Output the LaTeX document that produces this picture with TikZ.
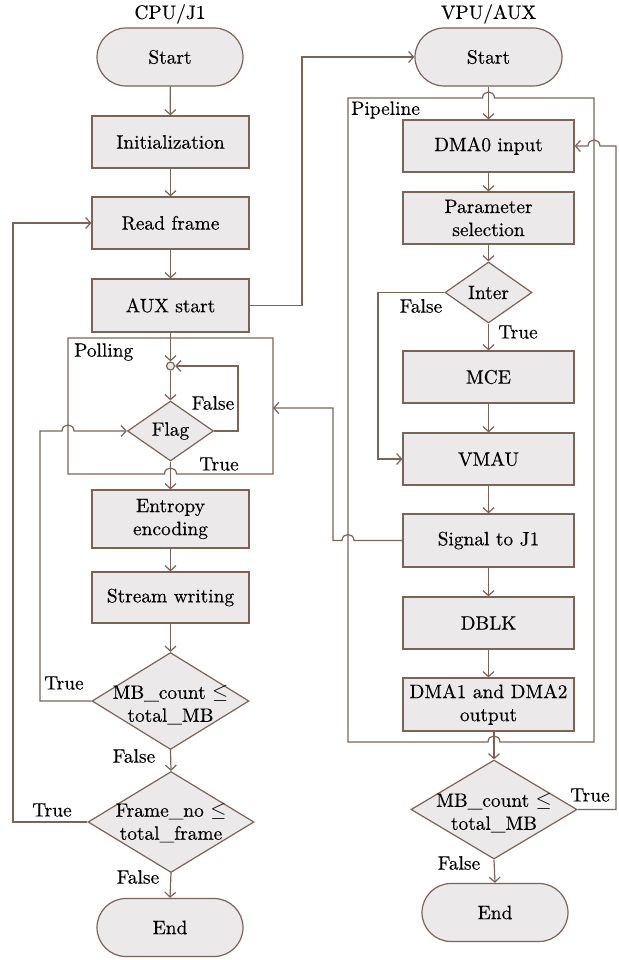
\documentclass[tikz,border=0pt]{standalone}
\usepackage{fontspec}
\setmainfont{lmroman10-regular.otf}[BoldFont=lmroman10-regular.otf, BoldFeatures={FakeBold=0.3}]
\usetikzlibrary{arrows.meta,shapes.geometric,shapes.misc}
\definecolor{lc}{RGB}{122,100,90}
\definecolor{fc}{RGB}{235,233,234}
\tikzset{
  every node/.style={font=\fontsize{19.4}{23}\selectfont\bfseries, text=black},
  conn/.style={draw=lc, line width=1.2pt},
  arr/.style={conn, -{Straight Barb[length=5pt,width=11pt]}},
  procbox/.style={rectangle, draw=lc, fill=fc, line width=1.2pt, inner sep=0pt, align=center},
  term/.style={rounded rectangle, draw=lc, fill=fc, line width=1.2pt, inner sep=0pt, minimum width=146pt, minimum height=58pt},
  decis/.style={diamond, draw=lc, fill=fc, line width=1.2pt, inner sep=0pt},
  lbl/.style={inner sep=0pt}
}
\begin{document}
\begin{tikzpicture}[x=1pt,y=-1pt]
\useasboundingbox (0,0) rectangle (618,960);
% titles
\node[lbl] (tL) at (170,14) {CPU/J1};
\node[lbl] (tR) at (488.5,14) {VPU/AUX};
% left column
\node[term] (startL) at (170,57) {Start};
\node[procbox, minimum width=157pt, minimum height=52pt] (init) at (170.5,142) {Initialization};
\node[procbox, minimum width=157pt, minimum height=52pt] (read) at (170.5,223) {Read frame};
\node[procbox, minimum width=157pt, minimum height=53pt] (aux) at (170.5,305.5) {AUX start};
% polling frame
\draw[conn] (68,338) -- (273,338) -- (273,474) -- (176.5,474) .. controls (176.5,466) and (164.5,466) .. (164.5,474) -- (68,474) -- cycle;
\coordinate (pollE) at (273,408);
\node[lbl, anchor=west] (polling) at (74,352) {Polling};
\node[circle, draw=lc, fill=fc, line width=1.2pt, minimum size=8pt, inner sep=0pt] (circ) at (170.5,366) {};
\node[decis, minimum width=86pt, minimum height=60pt] (flag) at (170.5,431) {};
\node[lbl] at (flag.center) {Flag};
\node[procbox, minimum width=157pt, minimum height=58pt] (entropy) at (170.5,519) {Entropy\\encoding};
\node[procbox, minimum width=157pt, minimum height=51pt] (stream) at (170.5,597.5) {Stream writing};
\node[decis, minimum width=157pt, minimum height=97pt] (mbL) at (170.5,701) {};
\node[lbl, align=center] at (170.5,705) {MB\_count $\leq$\\total\_MB};
\node[decis, minimum width=166pt, minimum height=101pt] (frameL) at (171,822) {};
\node[lbl, align=center] at (171,823) {Frame\_no $\leq$\\total\_frame};
\node[term] (endL) at (170,927.5) {End};
% right column
\node[term, minimum width=147pt] (startR) at (488.5,57) {Start};
\draw[conn] (348,98) -- (482.5,98) .. controls (482.5,90) and (494.5,90) .. (494.5,98) -- (594,98) -- (594,742) -- (500,742) .. controls (500,734) and (488,734) .. (488,742) -- (348,742) -- cycle;
\node[lbl, anchor=west] (pipeline) at (351,110) {Pipeline};
\node[procbox, minimum width=171pt, minimum height=52pt] (dma0) at (488.5,146) {DMA0 input};
\node[procbox, minimum width=171pt, minimum height=52pt] (param) at (488.5,218) {Parameter\\selection};
\node[decis, minimum width=87pt, minimum height=61pt] (inter) at (488.5,292.5) {};
\node[lbl] at (inter.center) {Inter};
\node[procbox, minimum width=171pt, minimum height=52pt] (mce) at (488.5,377) {MCE};
\node[procbox, minimum width=171pt, minimum height=52pt] (vmau) at (488.5,459) {VMAU};
\node[procbox, minimum width=171pt, minimum height=53pt] (signal) at (488.5,540.5) {Signal to J1};
\node[procbox, minimum width=171pt, minimum height=52pt] (dblk) at (488.5,623) {DBLK};
\node[procbox, minimum width=171pt, minimum height=53pt] (dma12) at (488.5,704.5) {DMA1 and DMA2\\output};
\node[decis, minimum width=166pt, minimum height=99pt] (mbR) at (494,809.5) {};
\node[lbl, align=center] at (494,813) {MB\_count $\leq$\\total\_MB};
\node[term] (endR) at (495,912.5) {End};
% left connectors
\draw[arr] (startL) -- (init);
\draw[arr] (init) -- (read);
\draw[arr] (read) -- (aux);
\draw[arr] (aux.east) -- (302,305.5) -- (302,57) -- (startR.west);
\draw[arr] (aux.south) -- (circ.north);
\draw[arr] (circ.south) -- (flag.north);
\draw[arr] (flag.east) -- (238,431) -- (238,366) -- (circ.east);
\draw[arr] (flag.south) -- (entropy.north);
\draw[arr] (entropy) -- (stream);
\draw[arr] (stream) -- (mbL.north);
\draw[arr] (mbL.west) -- (40,701) -- (40,431) -- (62,431) .. controls (62,423) and (74,423) .. (74,431) -- (flag.west);
\draw[arr] (mbL.south) -- (frameL.north);
\draw[arr] (frameL.west) -- (13,822) -- (13,223) -- (read.west);
\draw[arr] (frameL.south) -- (endL.north);
% right connectors
\draw[arr] (startR.south) -- (dma0.north);
\draw[arr] (dma0) -- (param);
\draw[arr] (param) -- (inter.north);
\draw[arr] (inter.south) -- (mce.north);
\draw[arr] (mce) -- (vmau);
\draw[arr] (vmau) -- (signal);
\draw[arr] (signal) -- (dblk);
\draw[arr] (dblk) -- (dma12);
\draw[arr] (inter.west) -- (378,292.5) -- (378,459) -- (vmau.west);
\draw[arr] (signal.west) -- (354,540.5) .. controls (354,532.5) and (342,532.5) .. (342,540.5) -- (333,540.5) -- (333,408) -- (pollE);
\draw[arr] (dma12.south -| mbR.north) -- (mbR.north);
\draw[arr] (mbR.east) -- (616,809.5) -- (616,146) -- (600,146) .. controls (600,138) and (588,138) .. (588,146) -- (dma0.east);
\draw[arr] (mbR.south) -- (endR.north);
% branch labels
\node[lbl] at (213,403) {False};
\node[lbl] at (219,464) {True};
\node[lbl] at (421,306) {False};
\node[lbl] at (518,332) {True};
\node[lbl] at (64,683) {True};
\node[lbl] at (134,756) {False};
\node[lbl] at (52,810) {True};
\node[lbl] at (138,877) {False};
\node[lbl] at (590,795) {True};
\node[lbl] at (459,863) {False};
\end{tikzpicture}
\end{document}
